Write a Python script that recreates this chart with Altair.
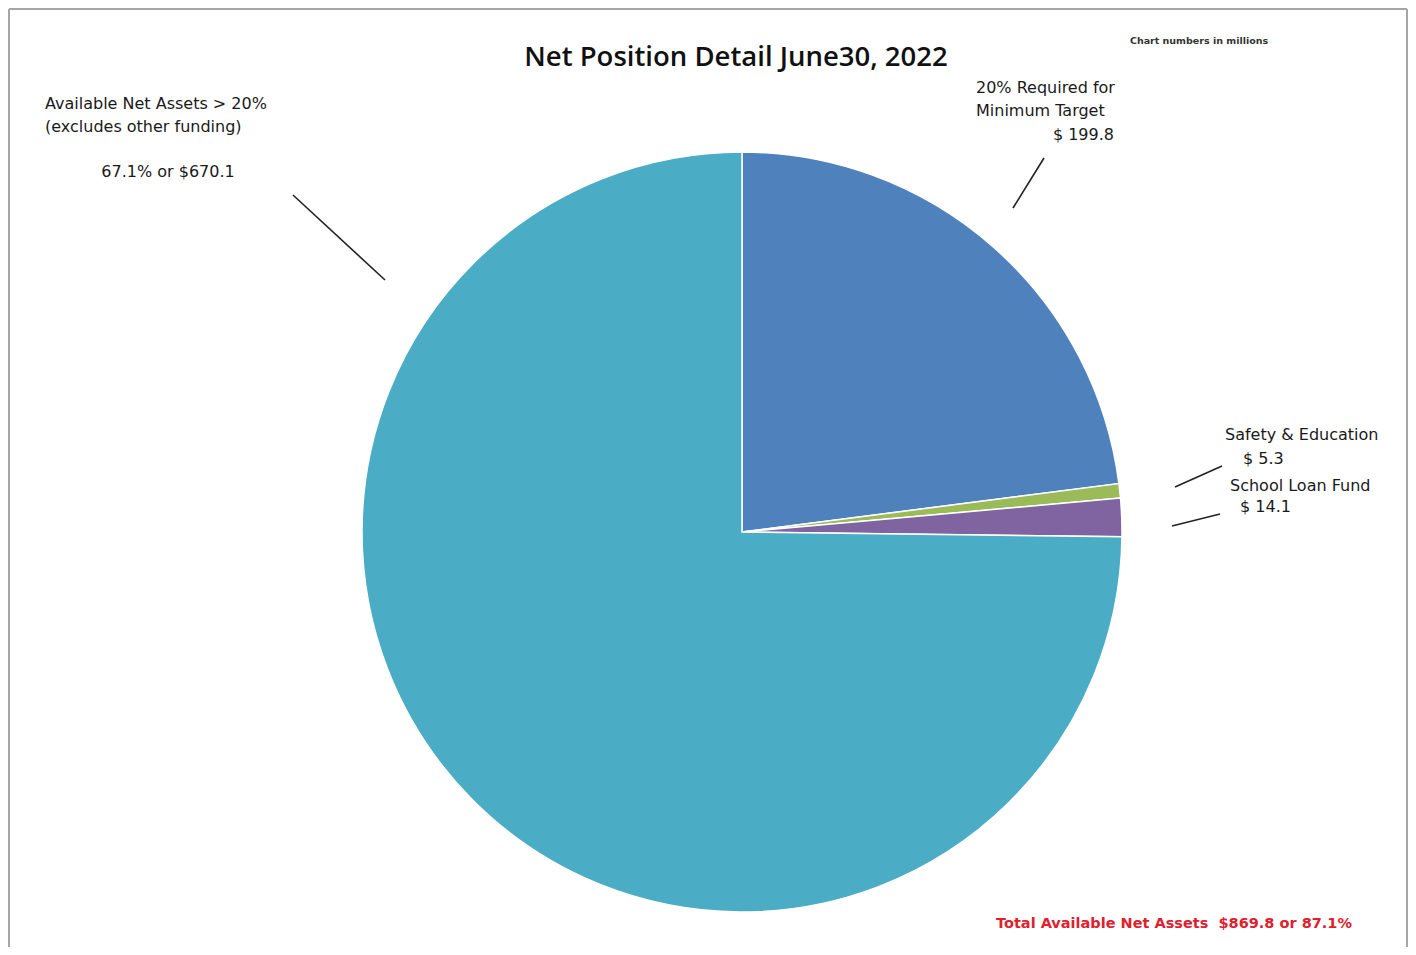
import altair as alt
import pandas as pd

# ---- data ----
categories = ["20% Required for Minimum Target", "Safety & Education", "School Loan Fund",
              "Available Net Assets > 20%"]
# slice sizes as drawn (the teal slice measures about 650.7 of an ~869.8 whole)
values = [199.8, 5.3, 14.1, 650.7]
slice_order = [1, 2, 3, 4]
colors = ["#4F81BD", "#9BBB59", "#8064A2", "#4BACC6"]

title_text = "Net Position Detail June30, 2022"
note_text = "Chart numbers in millions"
label_available = ["Available Net Assets > 20%", "(excludes other funding)"]
label_available_val = "67.1% or $670.1"
label_required = ["20% Required for", "Minimum Target"]
label_required_val = "$ 199.8"
label_safety = "Safety & Education"
label_safety_val = "$ 5.3"
label_school = "School Loan Fund"
label_school_val = "$ 14.1"
total_text = "Total Available Net Assets\u00a0\u00a0$869.8 or 87.1%"

df = pd.DataFrame({"category": categories, "value": values, "order": slice_order})

OX, OY = 8, 8  # page margin offset
W, H = 1400, 939
LABEL_FONT = "DejaVu Sans"


def one():
    return alt.Chart(pd.DataFrame({"k": [0]}))


pie = alt.Chart(df).mark_arc(radius=380, stroke="white", strokeWidth=1.5).encode(
    theta=alt.Theta("value:Q", stack=True),
    order=alt.Order("order:Q"),
    color=alt.Color("category:N", scale=alt.Scale(domain=categories, range=colors), legend=None),
    x=alt.value(742 - OX),
    y=alt.value(532 - OY),
)


def txt(t, x, y, align="left", size=16, color="#1a1a1a", weight="normal", font=LABEL_FONT,
        line_height=23):
    return one().mark_text(text=t, align=align, baseline="middle", fontSize=size, color=color,
                           fontWeight=weight, font=font, lineHeight=line_height).encode(
        x=alt.value(x - OX), y=alt.value(y - OY))


def line(x1, y1, x2, y2, color="#222222", width=1.6):
    return one().mark_rule(color=color, strokeWidth=width).encode(
        x=alt.value(x1 - OX), y=alt.value(y1 - OY), x2=alt.value(x2 - OX), y2=alt.value(y2 - OY))


layers = [
    pie,
    txt(title_text, 736, 58, align="center", size=27.5, weight=600, font="Open Sans", color="#111111"),
    txt(note_text, 1199, 41, align="center", size=9.5, weight="bold", color="#333333"),
    txt(label_available, 45, 104),
    txt(label_available_val, 168, 172, align="center"),
    txt(label_required, 976, 88),
    txt(label_required_val, 1114, 135, align="right"),
    txt(label_safety, 1225, 435),
    txt(label_safety_val, 1243, 459),
    txt(label_school, 1230, 486),
    txt(label_school_val, 1240, 507),
    txt(total_text, 996, 924, size=14.5, weight="bold", color="#E0202E"),
    line(293, 195, 385, 280),
    line(1044, 158, 1013, 208),
    line(1222, 466, 1175, 487),
    line(1220, 514, 1172, 526),
    # frame
    line(9, 9, 1407, 9, color="#a6a6a6", width=2),
    line(9, 9, 9, 955, color="#a6a6a6", width=2),
    line(1407, 9, 1407, 955, color="#a6a6a6", width=2),
]

chart = alt.layer(*layers).properties(
    width=W, height=H, padding=0,
    autosize=alt.AutoSizeParams(type="fit", contains="padding"),
).configure_view(stroke=None)

chart.save("out.html", embed_options={"renderer": "svg", "actions": False})
